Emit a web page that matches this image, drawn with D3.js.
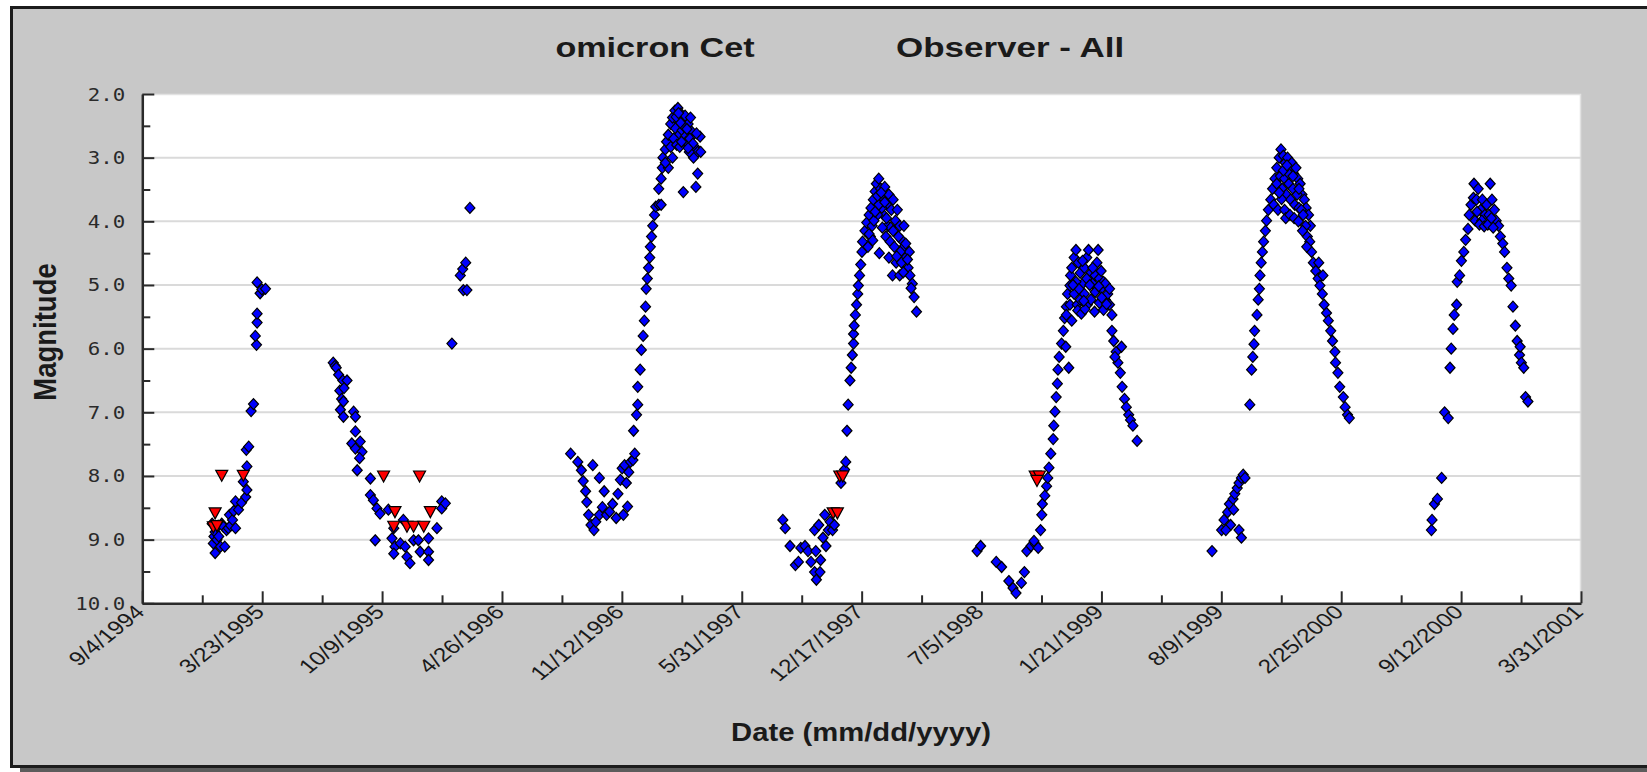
<!DOCTYPE html>
<html>
<head>
<meta charset="utf-8">
<script src="https://cdn.jsdelivr.net/npm/d3@7"></script>
<style>
  html, body { margin: 0; padding: 0; width: 100%; height: 100%; background: #fff; overflow: hidden; }
  svg { position: fixed; left: 0; top: 0; display: block; }
</style>
</head>
<body>
<svg id="chart" width="1647" height="772"></svg>
<script>
// Observation dates are Julian Dates minus JD_BASE; values are visual magnitudes.
const JD_BASE = 2449000;

const titleStar = "omicron Cet";
const titleObserver = "Observer - All";
const xTitle = "Date (mm/dd/yyyy)";
const yTitle = "Magnitude";

const dateTickLabels = ["9/4/1994", "3/23/1995", "10/9/1995", "4/26/1996", "11/12/1996", "5/31/1997",
  "12/17/1997", "7/5/1998", "1/21/1999", "8/9/1999", "2/25/2000", "9/12/2000", "3/31/2001"];
const magTickLabels = ["2.0", "3.0", "4.0", "5.0", "6.0", "7.0", "8.0", "9.0", "10.0"];

// Positive visual estimates, one array per observing season
const season1995 = [[718,9.06],[716,8.75],[719,8.95],[721,8.88],[721,9.21],[724,9.00],[726,8.78],[727,8.95],[730,9.11],
  [732,8.75],[735,8.80],[737,9.11],[740,8.85],[743,8.82],[745,8.61],[747,8.78],[750,8.69],[752,8.55],[755,8.40],
  [755,8.82],[760,8.53],[765,8.42],[768,8.09],[772,8.33],[774,8.22],[774,7.85],[773,7.59],[777,7.54],[781,6.98],
  [785,6.87],[790,5.94],[788,5.80],[791,5.59],[791,5.45],[791,4.96],[796,5.13],[799,5.07],[805,5.06]];

const season1996 = [[918,6.22],[921,6.27],[923,6.30],[927,6.41],[929,6.66],[932,6.79],[934,6.50],[941,6.50],[936,6.62],
  [935,6.83],[930,6.96],[952,6.99],[955,7.07],[935,7.07],[955,7.30],[949,7.49],[963,7.46],[955,7.57],[966,7.62],
  [962,7.72],[958,7.91],[980,8.04],[980,8.30],[985,8.38],[991,8.51],[996,8.59],[988,9.01],[1010,8.53],[1019,8.82],
  [1016,8.98],[1021,9.11],[1019,9.22],[1035,8.69],[1030,9.06],[1038,9.11],[1041,9.27],[1046,9.37],[1052,9.01],
  [1060,9.01],[1063,9.19],[1077,8.98],[1077,9.19],[1077,9.32],[1091,8.82],[1099,8.40],[1099,8.51],[1105,8.43],
  [1116,5.92],[1130,4.85],[1134,4.75],[1139,4.65],[1135,5.08],[1141,5.08],[1146,3.79]];

const season1997 = [[1314,7.65],[1326,7.78],[1332,7.91],[1335,8.08],[1339,8.24],[1341,8.41],[1344,8.61],[1348,8.77],
  [1353,8.85],[1356,8.72],[1362,8.61],[1367,8.49],[1370,8.24],[1374,8.61],[1379,8.56],[1384,8.44],[1390,8.66],
  [1351,7.83],[1362,8.03],[1393,8.28],[1397,8.06],[1400,7.88],[1404,7.83],[1407,8.11],[1411,7.94],[1414,7.78],
  [1418,7.75],[1421,7.65],[1409,8.48],[1402,8.61],[1419,7.29],[1424,7.04],[1426,6.88],[1426,6.60],[1430,6.33],
  [1432,6.02],[1435,5.80],[1437,5.56],[1439,5.34],[1440,5.06],[1442,4.90],[1444,4.73],[1446,4.57],[1447,4.40],
  [1449,4.24],[1451,4.07],[1454,3.90],[1456,3.77],[1461,3.74],[1465,3.74],[1461,3.49],[1465,3.33],[1467,3.16],
  [1468,3.00],[1472,2.87],[1474,2.75],[1477,2.64],[1481,2.47],[1484,2.37],[1488,2.26],[1493,2.22],[1498,2.31],
  [1502,2.42],[1505,2.34],[1510,2.47],[1514,2.37],[1489,2.54],[1495,2.64],[1500,2.57],[1505,2.67],[1481,2.83],
  [1486,2.70],[1491,2.80],[1507,2.75],[1516,2.59],[1521,2.83],[1526,2.91],[1531,2.91],[1530,2.67],[1519,3.00],
  [1512,2.91],[1502,3.54],[1523,3.46],[1526,3.25],[1477,3.16],[1472,3.08],[1484,3.00],[1496,2.83],[1503,2.51],
  [1497,2.45],[1508,2.55],[1513,2.70],[1518,2.78],[1524,2.62],[1490,2.36],[1494,2.30],[1499,2.75],[1510,2.85]];

const season1998 = [[1668,8.69],[1672,8.82],[1680,9.10],[1689,9.40],[1694,9.35],[1698,9.13],[1705,9.10],[1710,9.18],
  [1715,9.35],[1721,9.51],[1724,9.63],[1730,9.51],[1731,9.32],[1723,9.18],[1721,8.85],[1728,8.77],[1735,8.97],
  [1740,9.10],[1744,8.85],[1747,8.72],[1751,8.85],[1754,8.77],[1738,8.61],[1765,8.11],[1771,7.90],[1773,7.78],
  [1775,7.29],[1777,6.88],[1780,6.50],[1782,6.30],[1784,6.10],[1786,5.92],[1786,5.77],[1787,5.64],[1789,5.47],
  [1791,5.31],[1793,5.14],[1794,5.01],[1796,4.85],[1798,4.68],[1800,4.48],[1801,4.32],[1805,4.15],[1808,4.02],
  [1812,3.90],[1815,3.79],[1819,3.66],[1822,3.53],[1824,3.41],[1828,3.33],[1831,3.49],[1835,3.63],[1838,3.46],
  [1842,3.74],[1845,3.58],[1849,3.82],[1852,3.66],[1856,3.99],[1859,3.82],[1863,4.07],[1866,4.29],[1870,4.40],
  [1873,4.57],[1877,4.73],[1880,4.85],[1884,4.98],[1887,5.19],[1891,5.42],[1873,4.35],[1879,4.48],[1864,4.48],
  [1857,4.65],[1851,4.85],[1843,4.07],[1836,3.90],[1833,3.79],[1826,3.90],[1817,4.07],[1814,4.24],[1810,4.40],
  [1820,3.99],[1828,3.74],[1840,4.24],[1847,4.32],[1854,4.40],[1861,4.24],[1845,4.57],[1870,4.07],[1863,4.85],
  [1812,4.20],[1818,4.30],[1822,3.85],[1826,3.60],[1832,3.55],[1838,3.70],[1841,3.95],[1848,4.10],[1852,4.15],
  [1858,4.55],[1866,4.65],[1869,4.80],[1876,4.60],[1882,5.05],[1834,4.10],[1829,4.50]];

const season1999 = [[1992,9.18],[1998,9.10],[2024,9.35],[2033,9.43],[2045,9.65],[2052,9.76],[2057,9.84],[2066,9.68],
  [2071,9.51],[2075,9.18],[2082,9.10],[2089,9.07],[2094,9.13],[2087,9.02],[2098,8.85],[2100,8.61],[2101,8.44],
  [2105,8.31],[2108,8.16],[2110,8.03],[2112,7.87],[2115,7.65],[2119,7.42],[2120,7.21],[2122,6.99],[2124,6.76],
  [2126,6.55],[2127,6.33],[2129,6.13],[2133,5.92],[2136,5.72],[2138,5.52],[2141,5.34],[2143,5.14],[2147,5.01],
  [2148,4.85],[2150,4.73],[2154,4.57],[2157,4.45],[2161,4.65],[2164,4.81],[2168,4.98],[2171,4.73],[2175,4.57],
  [2178,4.45],[2182,4.81],[2185,4.98],[2189,4.85],[2192,4.65],[2196,4.90],[2199,5.06],[2203,4.95],[2206,5.23],
  [2210,5.14],[2213,5.31],[2217,5.47],[2194,4.45],[2141,5.47],[2147,5.31],[2154,5.14],[2159,5.31],[2164,5.23],
  [2171,5.14],[2176,5.31],[2182,5.23],[2189,5.11],[2196,5.28],[2203,5.39],[2157,4.95],[2162,5.06],[2175,4.90],
  [2185,4.73],[2168,4.62],[2150,5.56],[2140,5.97],[2145,6.30],[2199,4.78],[2206,4.98],[2213,5.06],[2217,5.72],
  [2220,5.88],[2224,6.05],[2227,6.22],[2231,6.38],[2234,6.60],[2238,6.79],[2241,6.92],[2245,7.04],[2248,7.12],
  [2252,7.21],[2259,7.45],[2222,6.13],[2233,5.97],
  [2160,5.40],[2166,5.45],[2172,5.38],[2180,5.00],[2188,5.42],[2195,5.02],[2200,5.20],[2208,5.30],[2152,5.00],[2170,5.25]];

const season2000 = [[2384,9.18],[2400,8.85],[2404,8.69],[2410,8.57],[2413,8.44],[2419,8.36],[2422,8.28],[2426,8.19],
  [2429,8.11],[2433,8.03],[2436,7.98],[2439,8.03],[2415,8.77],[2407,8.85],[2429,8.85],[2433,8.97],[2420,8.53],
  [2447,6.88],[2450,6.33],[2452,6.13],[2454,5.93],[2455,5.72],[2459,5.47],[2461,5.23],[2463,5.06],[2464,4.85],
  [2466,4.65],[2468,4.48],[2470,4.32],[2473,4.15],[2475,3.99],[2478,3.82],[2482,3.66],[2485,3.49],[2489,3.33],
  [2492,3.16],[2496,3.00],[2499,2.87],[2503,2.97],[2506,3.08],[2510,3.00],[2513,3.16],[2517,3.08],[2520,3.25],
  [2524,3.16],[2527,3.33],[2531,3.41],[2534,3.58],[2538,3.66],[2541,3.79],[2545,3.90],[2548,4.07],[2492,3.41],
  [2498,3.29],[2501,3.49],[2505,3.33],[2508,3.58],[2512,3.41],[2515,3.66],[2519,3.49],[2522,3.74],[2526,3.58],
  [2529,3.79],[2533,3.82],[2536,3.90],[2540,4.07],[2543,4.24],[2487,3.74],[2494,3.82],[2505,3.82],[2512,3.25],
  [2519,3.29],[2529,3.49],[2547,4.32],[2550,4.48],[2553,4.65],[2557,4.78],[2561,4.90],[2564,5.01],[2568,5.14],
  [2571,5.31],[2575,5.44],[2578,5.56],[2582,5.72],[2585,5.88],[2589,6.05],[2590,6.22],[2594,6.38],[2597,6.60],
  [2603,6.76],[2606,6.92],[2610,7.04],[2613,7.09],[2562,4.65],[2569,4.85],
  [2500,3.65],[2507,3.95],[2514,3.90],[2521,3.95],[2528,4.00],[2535,4.15],[2542,4.40],[2503,3.20],[2509,3.12],[2496,3.55]];

const season2001 = [[2750,8.85],[2751,8.69],[2755,8.44],[2760,8.36],[2767,8.03],[2772,7.00],[2778,7.09],[2781,6.30],
  [2783,6.00],[2786,5.69],[2788,5.47],[2792,5.31],[2793,4.95],[2797,4.85],[2800,4.62],[2804,4.48],[2807,4.29],
  [2811,4.12],[2813,3.90],[2816,3.74],[2820,3.63],[2821,3.41],[2825,3.66],[2828,3.49],[2832,3.82],[2835,3.66],
  [2839,3.90],[2842,3.74],[2846,3.90],[2848,3.41],[2851,3.66],[2855,3.82],[2858,3.99],[2823,3.99],[2834,3.99],
  [2862,4.07],[2865,4.24],[2869,4.35],[2872,4.48],[2876,4.73],[2879,4.90],[2883,5.01],[2886,5.34],[2890,5.64],
  [2893,5.88],[2897,6.10],[2900,6.22],[2904,6.30],[2907,6.76],[2911,6.83],[2898,5.97],
  [2826,3.85],[2830,4.05],[2838,4.08],[2844,4.05],[2850,3.95],[2853,4.10]];

// "Fainter than" estimates (upper limits)
const fainterThan = [[718,8.80],[721,8.58],[724,8.78],[732,7.99],[768,7.99],
  [1002,8.00],[1062,8.00],[1021,8.56],[1080,8.56],[1019,8.79],[1041,8.79],[1052,8.79],[1069,8.79],
  [1752,8.58],[1759,8.58],[1763,8.00],[1768,8.00],
  [2089,8.00],[2096,8.00],[2092,8.07]];

const positive = [].concat(season1995, season1996, season1997, season1998, season1999, season2000, season2001);

// ---- layout ----
const W = 1647, H = 772;
const plot = { left: 142.3, right: 1581, top: 94, bottom: 603.3 };

const svg = d3.select("#chart");

const jdToDate = jd => new Date((JD_BASE + jd - 2440587.5) * 864e5);
const parseMDY = s => { const [m, d, y] = s.split("/").map(Number); return new Date(Date.UTC(y, m - 1, d)); };

const majorDates = dateTickLabels.map(parseMDY);
const minorDates = d3.pairs(majorDates).map(([a, b]) => new Date((+a + +b) / 2));

const x = d3.scaleUtc().domain([majorDates[0], majorDates[majorDates.length - 1]]).range([plot.left, plot.right]);
const magTicks = magTickLabels.map(Number);
const y = d3.scaleLinear().domain([magTicks[0], magTicks[magTicks.length - 1]]).range([plot.top, plot.bottom]);
const minorMags = d3.pairs(magTicks).map(([a, b]) => (a + b) / 2);

// panel: grey fill, shadow along the bottom, border on the left, top and bottom edges
svg.append("rect").attr("x", 20).attr("y", 766).attr("width", W).attr("height", 6).attr("fill", "#5c5c5c");
svg.append("rect").attr("x", 10).attr("y", 6).attr("width", W).attr("height", 761).attr("fill", "#c8c8c8");
svg.append("path")
  .attr("d", `M${W},7.5H11.5V766.5H${W}`)
  .attr("fill", "none").attr("stroke", "#1c1c1c").attr("stroke-width", 3);

// plot area with a faint top/right edge
svg.append("rect").attr("x", plot.left).attr("y", plot.top)
  .attr("width", plot.right - plot.left).attr("height", plot.bottom - plot.top).attr("fill", "#fff");
svg.append("path")
  .attr("d", `M${plot.left},${plot.top + 0.5}H${plot.right - 0.5}V${plot.bottom}`)
  .attr("fill", "none").attr("stroke", "#e2e2e2").attr("stroke-width", 1.5);

// horizontal grid
svg.append("g").selectAll("line").data(magTicks.slice(1, -1)).join("line")
  .attr("x1", plot.left).attr("x2", plot.right)
  .attr("y1", d => y(d)).attr("y2", d => y(d))
  .attr("stroke", "#dadada").attr("stroke-width", 2);

// titles
const title = svg.append("g").attr("font-family", "'Liberation Sans', Arial, sans-serif")
  .attr("font-weight", "bold").attr("fill", "#1a1a1a");
title.append("text").attr("transform", "translate(655,57) scale(1.22,1)")
  .attr("text-anchor", "middle").attr("font-size", 28).text(titleStar);
title.append("text").attr("transform", "translate(1010,57) scale(1.25,1)")
  .attr("text-anchor", "middle").attr("font-size", 28).text(titleObserver);
title.append("text").attr("transform", "translate(861,741) scale(1.17,1)")
  .attr("text-anchor", "middle").attr("font-size", 25).text(xTitle);
title.append("text").attr("transform", "translate(56,332) scale(1.12,1) rotate(-90)")
  .attr("text-anchor", "middle").attr("font-size", 27.5).text(yTitle);

// y axis (ticks inside the plot)
const yAxis = svg.append("g").attr("transform", `translate(${plot.left},0)`)
  .call(d3.axisLeft(y).tickValues(magTicks).tickSize(-12).tickSizeOuter(0).tickPadding(0)
    .tickFormat((d, i) => magTickLabels[i]));
svg.append("g").attr("transform", `translate(${plot.left},0)`)
  .call(d3.axisLeft(y).tickValues(minorMags).tickSize(-8).tickSizeOuter(0).tickFormat(""))
  .call(g => g.select(".domain").remove());
yAxis.selectAll(".tick text")
  .attr("x", null).attr("dy", null)
  .attr("transform", "translate(-17,6) scale(1.22,1)")
  .attr("font-family", "'DejaVu Sans Mono', monospace").attr("font-size", 17).attr("fill", "#2a2a2a");

// x axis (ticks inside the plot)
const xAxis = svg.append("g").attr("transform", `translate(0,${plot.bottom})`)
  .call(d3.axisBottom(x).tickValues(majorDates).tickSize(-12).tickSizeOuter(0).tickPadding(0)
    .tickFormat((d, i) => dateTickLabels[i]));
svg.append("g").attr("transform", `translate(0,${plot.bottom})`)
  .call(d3.axisBottom(x).tickValues(minorDates).tickSize(-8).tickSizeOuter(0).tickFormat(""))
  .call(g => g.select(".domain").remove());
xAxis.selectAll(".tick text")
  .attr("y", null).attr("dy", null)
  .attr("text-anchor", "end")
  .attr("transform", "translate(3,10) scale(1.25,1) rotate(-45)")
  .attr("font-family", "'Liberation Sans', Arial, sans-serif").attr("font-size", 19.5).attr("fill", "#1a1a1a");

svg.selectAll(".domain").attr("stroke", "#2a2a2a").attr("stroke-width", 2.5);
svg.selectAll(".tick line").attr("stroke", "#2a2a2a").attr("stroke-width", 2);

// observations
const diamond = "M0,-5.5L5,0L0,5.5L-5,0Z";
const triangle = "M-6,-5L6,-5L0,6Z";

svg.append("g").selectAll("path").data(positive).join("path")
  .attr("d", diamond)
  .attr("transform", d => `translate(${x(jdToDate(d[0]))},${y(d[1])})`)
  .attr("fill", "#0000ff").attr("stroke", "#000").attr("stroke-width", 1.2);

svg.append("g").selectAll("path").data(fainterThan).join("path")
  .attr("d", triangle)
  .attr("transform", d => `translate(${x(jdToDate(d[0]))},${y(d[1])})`)
  .attr("fill", "#ff0000").attr("stroke", "#000").attr("stroke-width", 1.2);
</script>
</body>
</html>
